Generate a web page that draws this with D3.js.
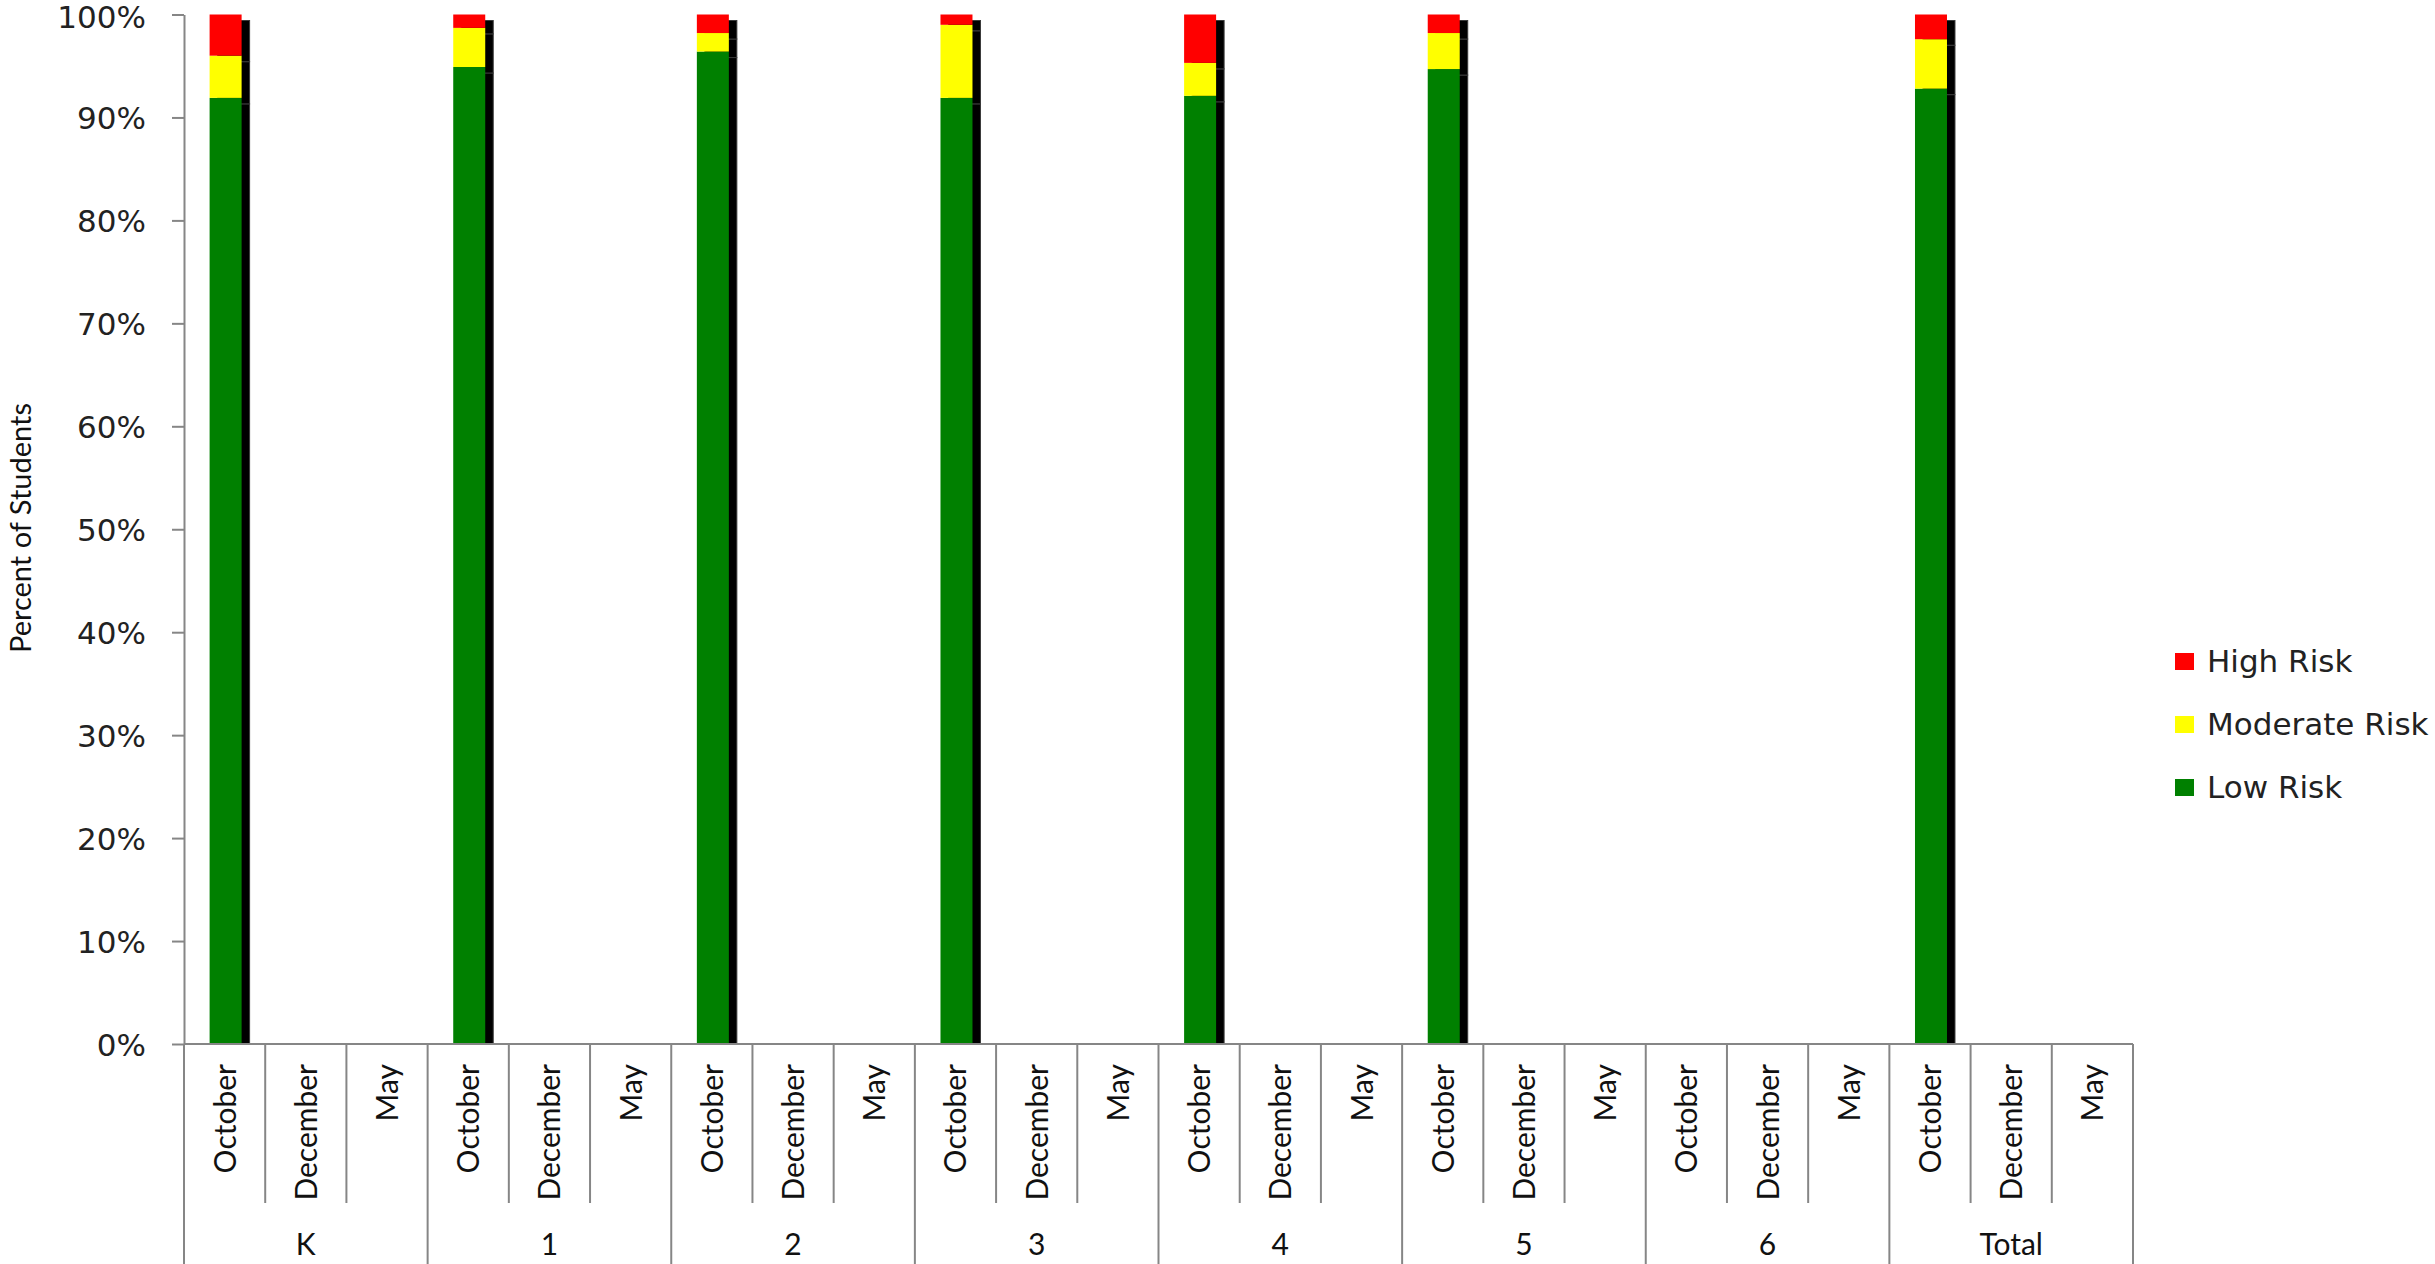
<!DOCTYPE html>
<html>
<head>
<meta charset="utf-8">
<script src="https://cdn.jsdelivr.net/npm/d3@7"></script>
<style>
  body { margin: 0; background: #fff; }
  svg { display: block; }
</style>
</head>
<body>
<svg width="2435" height="1264"></svg>
<script>
// Data
var grades = ["K", "1", "2", "3", "4", "5", "6", "Total"];
var months = ["October", "December", "May"];
// only October was measured, December and May are empty
var lowRisk      = [91.9, 94.9, 96.4, 91.9, 92.1, 94.7, null, 92.8];
var moderateRisk = [4.1, 3.8, 1.8, 7.1, 3.2, 3.5, null, 4.8];
var highRisk     = [4.0, 1.3, 1.8, 1.0, 4.7, 1.8, null, 2.4];
var yTicks = [0, 10, 20, 30, 40, 50, 60, 70, 80, 90, 100];

var seriesNames = ["Low Risk", "Moderate Risk", "High Risk"];
var seriesColors = {"Low Risk": "#008000", "Moderate Risk": "#ffff00", "High Risk": "#ff0000"};

var svg = d3.select("svg");
// plot edges (note: "top" is reserved on window, so use other names)
var plotLeft = 184, plotRight = 2133, plotTop = 14.5, plotBottom = 1044;

// one row per grade/month column
var rows = [];
grades.forEach((g, i) => {
    months.forEach(m => {
        var has = m == "October" && lowRisk[i] != null;
        rows.push({
            key: g + "|" + m, grade: g, month: m,
            "Low Risk": has ? lowRisk[i] : 0,
            "Moderate Risk": has ? moderateRisk[i] : 0,
            "High Risk": has ? highRisk[i] : 0,
            has: has
        });
    });
});

var x = d3.scaleBand().domain(rows.map(d => d.key)).range([plotLeft, plotRight]).padding(0);
var y = d3.scaleLinear().domain([0, 100]).range([plotBottom, plotTop]);

var stack = d3.stack().keys(seriesNames);
var stacked = stack(rows);

var barW = 32;
var shX = 8, shY = 6;

svg.append("clipPath").attr("id", "plot")
    .append("rect").attr("x", plotLeft).attr("y", 0).attr("width", plotRight - plotLeft).attr("height", plotBottom);

// shadows behind the bars
var shadow = svg.append("g").attr("clip-path", "url(#plot)");
stacked.forEach(s => {
    shadow.selectAll(null)
        .data(s.filter(d => d.data.has))
        .join("rect")
            .attr("x", d => x(d.data.key) + x.bandwidth() / 2 - barW / 2 + 1 + shX)
            .attr("y", d => y(d[1]) + shY)
            .attr("width", barW)
            .attr("height", d => y(d[0]) - y(d[1]))
            .attr("fill", "#000")
            .attr("stroke", "#3a3a3a")
            .attr("stroke-width", 1);
});

// stacked bars
svg.append("g")
    .selectAll("g")
    .data(stacked)
    .join("g")
        .attr("fill", s => seriesColors[s.key])
    .selectAll("rect")
    .data(s => s.filter(d => d.data.has))
    .join("rect")
        .attr("x", d => x(d.data.key) + x.bandwidth() / 2 - barW / 2 + 1)
        .attr("y", d => y(d[1]))
        .attr("width", barW)
        .attr("height", d => y(d[0]) - y(d[1]));

// Y axis
var axisColor = "#868686";
var yAxis = svg.append("g").attr("transform", "translate(" + plotLeft + ",0)")
    .call(d3.axisLeft(y).tickValues(yTicks).tickSize(12).tickSizeOuter(0).tickFormat(d => d + "%"));
yAxis.select(".domain").attr("stroke", axisColor).attr("stroke-width", 2);
yAxis.selectAll(".tick line").attr("stroke", axisColor).attr("stroke-width", 2);
yAxis.selectAll(".tick text")
    .attr("x", -38)
    .attr("dy", d => d == 100 ? "0.42em" : "0.36em")
    .attr("font-family", "DejaVu Sans, Verdana, sans-serif")
    .attr("font-size", 31)
    .attr("fill", "#222");

// X axis line
svg.append("line")
    .attr("x1", plotLeft).attr("x2", plotRight)
    .attr("y1", plotBottom).attr("y2", plotBottom)
    .attr("stroke", axisColor).attr("stroke-width", 2);

// column separators: short between months, long between grades
var bounds = d3.range(rows.length + 1);
svg.append("g").selectAll("line")
    .data(bounds)
    .join("line")
        .attr("x1", i => plotLeft + i * x.bandwidth())
        .attr("x2", i => plotLeft + i * x.bandwidth())
        .attr("y1", plotBottom)
        .attr("y2", i => i % 3 == 0 ? 1264 : 1203)
        .attr("stroke", axisColor)
        .attr("stroke-width", 2);

// month labels
svg.append("g").selectAll("text")
    .data(rows)
    .join("text")
        .attr("transform", d => "translate(" + (x(d.key) + x.bandwidth() / 2 + 11) + "," + 1064 + ") rotate(-90)")
        .attr("text-anchor", "end")
        .attr("font-family", "Lato, sans-serif")
        .attr("font-size", 30)
        .attr("fill", "#111")
        .text(d => d.month);

// grade labels
svg.append("g").selectAll("text")
    .data(grades)
    .join("text")
        .attr("x", g => x(g + "|December") + x.bandwidth() / 2)
        .attr("y", 1255)
        .attr("text-anchor", "middle")
        .attr("font-family", "Lato, sans-serif")
        .attr("font-size", 30)
        .attr("fill", "#111")
        .text(g => g);

// y axis title
svg.append("text")
    .attr("transform", "translate(31,528) rotate(-90)")
    .attr("text-anchor", "middle")
    .attr("font-family", "Lato, sans-serif")
    .attr("font-size", 29)
    .attr("fill", "#111")
    .text("Percent of Students");

// legend
var legendItems = ["High Risk", "Moderate Risk", "Low Risk"];
var legend = svg.append("g").selectAll("g")
    .data(legendItems)
    .join("g")
        .attr("transform", (d, i) => "translate(2175," + (661 + i * 63) + ")");
legend.append("rect")
    .attr("x", 0).attr("y", -8)
    .attr("width", 19).attr("height", 17)
    .attr("fill", d => seriesColors[d]);
legend.append("text")
    .attr("x", 32).attr("y", 0)
    .attr("dy", "0.36em")
    .attr("font-family", "DejaVu Sans, Verdana, sans-serif")
    .attr("font-size", 31)
    .attr("fill", "#222")
    .text(d => d);
</script>
</body>
</html>
